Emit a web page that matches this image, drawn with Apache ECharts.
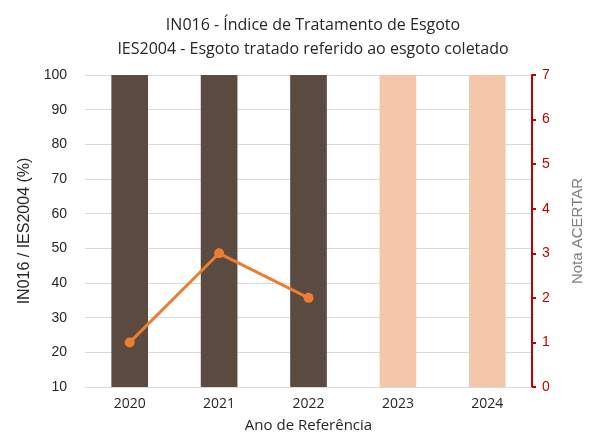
<!DOCTYPE html>
<html><head><meta charset="utf-8">
<script src="https://cdn.jsdelivr.net/npm/echarts@6/dist/echarts.min.js"></script>
<style>html,body{margin:0;padding:0;background:#fff}#c{width:593px;height:439px}</style>
</head><body><div id="c"></div>
<script>
const categories = ['2020','2021','2022','2023','2024'];
const indexValues = [100, 100, 100, 100, 100];
const notaValues = [1, 3, 2, null, null];
const barColors = ['#5B4A40','#5B4A40','#5B4A40','#F5C7AA','#F5C7AA'];
const leftTicks = {min: 10, max: 100, interval: 10};
const rightTicks = {min: 0, max: 7, interval: 1};

const chart = echarts.init(document.getElementById('c'));
chart.setOption({
  animation: false,
  title: {
    text: 'IN016 - Índice de Tratamento de Esgoto\nIES2004 - Esgoto tratado referido ao esgoto coletado',
    left: 308, top: 8, textAlign: 'center',
    textStyle: {fontFamily: 'Open Sans', fontSize: 16, fontWeight: 'normal', color: '#262626', lineHeight: 24}
  },
  grid: {left: 85, right: 57, top: 75, bottom: 52},
  xAxis: {
    type: 'category', data: categories,
    axisLine: {show: true, lineStyle: {color: '#d9d9d9'}},
    axisTick: {show: false},
    axisLabel: {color: '#262626', fontSize: 14, fontFamily: 'Open Sans', margin: 10},
    name: 'Ano de Referência', nameLocation: 'middle', nameGap: 31,
    nameTextStyle: {color: '#262626', fontSize: 15, fontFamily: 'Open Sans'}
  },
  yAxis: [{
    type: 'value', min: leftTicks.min, max: leftTicks.max, interval: leftTicks.interval,
    axisLine: {show: false}, axisTick: {show: false},
    axisLabel: {color: '#262626', fontSize: 14, fontFamily: 'Liberation Sans', margin: 18},
    splitLine: {lineStyle: {color: '#d9d9d9', width: 1}},
    name: 'IN016 / IES2004 (%)', nameLocation: 'middle', nameGap: 50, nameRotate: 90,
    nameTextStyle: {color: '#262626', fontSize: 16, fontFamily: 'Liberation Sans'}
  }, {
    type: 'value', position: 'right', min: rightTicks.min, max: rightTicks.max, interval: rightTicks.interval,
    axisLine: {show: true, lineStyle: {color: '#C00000', width: 2}},
    axisTick: {show: true, inside: false, length: 4, lineStyle: {color: '#C00000', width: 2}},
    axisLabel: {color: '#C00000', fontSize: 14, fontFamily: 'Liberation Sans', margin: 10},
    splitLine: {show: false},
    name: 'Nota ACERTAR', nameLocation: 'middle', nameGap: 38, nameRotate: 90,
    nameTextStyle: {color: '#7f7f7f', fontSize: 15, fontFamily: 'Liberation Sans'}
  }],
  series: [{
    type: 'bar', yAxisIndex: 0, barWidth: '41%',
    data: indexValues.map((v, i) => ({value: v, itemStyle: {color: barColors[i]}}))
  }, {
    type: 'line', yAxisIndex: 1, data: notaValues,
    symbol: 'circle', symbolSize: 10,
    lineStyle: {color: '#ED7D31', width: 3},
    itemStyle: {color: '#ED7D31'}
  }]
});
</script></body></html>
